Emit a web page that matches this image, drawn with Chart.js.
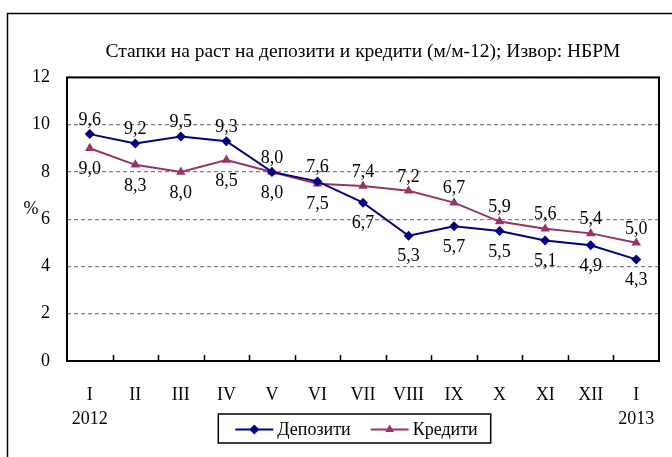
<!DOCTYPE html>
<html lang="mk">
<head>
    <meta charset="UTF-8">
    <title>Стапки на раст на депозити и кредити</title>
    <script src="https://cdn.jsdelivr.net/npm/chart.js"></script>
    <style>
        html, body { margin: 0; padding: 0; background: #fff; }
    </style>
</head>
<body>
    <canvas id="chart" width="672" height="457"></canvas>
    <script>
        // months, with the year under the first and last one
        const months = [['I', '2012'], 'II', 'III', 'IV', 'V', 'VI', 'VII', 'VIII', 'IX', 'X', 'XI', 'XII', ['I', '2013']];
        const deposits = [9.6, 9.2, 9.5, 9.3, 8.0, 7.6, 6.7, 5.3, 5.7, 5.5, 5.1, 4.9, 4.3];
        const credits = [9.0, 8.3, 8.0, 8.5, 8.0, 7.5, 7.4, 7.2, 6.7, 5.9, 5.6, 5.4, 5.0];
        // -1 = value label above the point, 1 = below
        const depositSide = [-1, -1, -1, -1, -1, -1, 1, 1, 1, 1, 1, 1, 1];
        const creditSide = [1, 1, 1, 1, 1, 1, -1, -1, -1, -1, -1, -1, -1];

        const serif = "'Liberation Serif', 'Times New Roman', serif";
        const sides = [depositSide, creditSide];

        function marker(ctx, style, x, y, r) {
            ctx.beginPath();
            if (style === 'rectRot') {
                ctx.moveTo(x, y - r); ctx.lineTo(x + r, y); ctx.lineTo(x, y + r); ctx.lineTo(x - r, y);
            } else {
                const h = r * Math.sin(Math.PI / 3);
                ctx.moveTo(x, y - r); ctx.lineTo(x + h, y + r / 2); ctx.lineTo(x - h, y + r / 2);
            }
            ctx.closePath();
            ctx.fill();
        }

        const extras = {
            id: 'extras',
            beforeDraw(chart) {
                const ctx = chart.ctx;
                ctx.save();
                // outer chart frame
                ctx.strokeStyle = '#000';
                ctx.lineWidth = 1.5;
                ctx.strokeRect(7.5, 13.5, chart.width + 20, chart.height + 20);
                ctx.restore();
            },
            beforeDatasetsDraw(chart) {
                const ctx = chart.ctx;
                const a = chart.chartArea;
                const xs = chart.scales.x;
                ctx.save();
                ctx.strokeStyle = '#000';
                ctx.lineWidth = 2;
                ctx.strokeRect(a.left, a.top, a.right - a.left, a.bottom - a.top);
                // small tick marks between months, pointing into the plot
                const step = xs.getPixelForTick(1) - xs.getPixelForTick(0);
                ctx.lineWidth = 1.5;
                ctx.beginPath();
                for (let i = 1; i < months.length; i++) {
                    const x = Math.round(xs.getPixelForTick(i) - step / 2) + 0.5;
                    ctx.moveTo(x, a.bottom);
                    ctx.lineTo(x, a.bottom - 6);
                }
                ctx.stroke();
                ctx.restore();
            },
            afterDraw(chart) {
                const ctx = chart.ctx;
                ctx.save();
                ctx.font = '18px ' + serif;
                ctx.fillStyle = '#000';
                ctx.textAlign = 'center';
                ctx.textBaseline = 'middle';

                // value labels
                chart.data.datasets.forEach((ds, i) => {
                    chart.getDatasetMeta(i).data.forEach((pt, j) => {
                        const txt = ds.data[j].toFixed(1).replace('.', ',');
                        ctx.fillText(txt, pt.x, pt.y + (sides[i][j] < 0 ? -14 : 21));
                    });
                });

                // unit next to the y axis
                ctx.fillText('%', 31, 209);

                // legend: line + marker, boxed
                const ds = chart.data.datasets;
                const symW = 38, gap = 4, between = 20, padL = 17, padR = 13;
                const widths = ds.map(d => ctx.measureText(d.label).width);
                const boxW = padL + symW * 2 + gap * 2 + between + widths[0] + widths[1] + padR;
                const cx = 354.5, cy = 428.5, boxH = 29;
                const left = cx - boxW / 2;
                ctx.strokeStyle = '#000';
                ctx.lineWidth = 1.5;
                ctx.strokeRect(left, cy - boxH / 2, boxW, boxH);
                let x = left + padL;
                ctx.textAlign = 'left';
                ds.forEach((d, i) => {
                    ctx.strokeStyle = d.borderColor;
                    ctx.fillStyle = d.borderColor;
                    ctx.lineWidth = 2;
                    ctx.beginPath();
                    ctx.moveTo(x, cy + 1);
                    ctx.lineTo(x + symW, cy + 1);
                    ctx.stroke();
                    marker(ctx, d.pointStyle, x + symW / 2, cy + 1, 5);
                    ctx.fillStyle = '#000';
                    ctx.fillText(d.label, x + symW + gap, cy + 2);
                    x += symW + gap + widths[i] + between;
                });
                ctx.restore();
            }
        };

        new Chart(document.getElementById('chart'), {
            type: 'line',
            data: {
                labels: months,
                datasets: [{
                    label: 'Депозити',
                    data: deposits,
                    borderColor: '#000080',
                    backgroundColor: '#000080',
                    borderWidth: 2,
                    pointStyle: 'rectRot',
                    pointRadius: 5,
                    pointBorderWidth: 0,
                    tension: 0
                }, {
                    label: 'Кредити',
                    data: credits,
                    borderColor: '#993366',
                    backgroundColor: '#993366',
                    borderWidth: 2,
                    pointStyle: 'triangle',
                    pointRadius: 5.5,
                    pointBorderWidth: 0,
                    tension: 0
                }]
            },
            options: {
                responsive: false,
                animation: false,
                layout: { padding: { left: 0, right: 13, top: 0, bottom: 0 } },
                plugins: {
                    legend: { display: false },
                    tooltip: { enabled: false },
                    title: {
                        display: true,
                        fullSize: false,
                        text: 'Стапки на раст на депозити и кредити (м/м-12); Извор: НБРМ',
                        color: '#000',
                        font: { family: serif, size: 19.5, weight: 'normal', lineHeight: 1.2 },
                        padding: { top: 40, bottom: 14 }
                    }
                },
                scales: {
                    x: {
                        offset: true,
                        grid: {
                            offset: true,
                            drawOnChartArea: false,
                            drawTicks: true,
                            tickLength: 22,
                            tickColor: 'rgba(0,0,0,0)'
                        },
                        border: { display: false },
                        ticks: {
                            color: '#000',
                            padding: 0,
                            maxRotation: 0,
                            autoSkip: false,
                            font: { family: serif, size: 18, lineHeight: 1.33 }
                        },
                        afterFit(scale) { scale.height = 96; }
                    },
                    y: {
                        min: 0,
                        max: 12,
                        ticks: {
                            stepSize: 2,
                            color: '#000',
                            padding: 17,
                            font: { family: serif, size: 18 }
                        },
                        grid: { color: '#808080', lineWidth: 1.2, drawTicks: false },
                        border: { display: false, dash: [4, 3] },
                        afterFit(scale) { scale.width = 67; }
                    }
                }
            },
            plugins: [extras]
        });
    </script>
</body>
</html>
